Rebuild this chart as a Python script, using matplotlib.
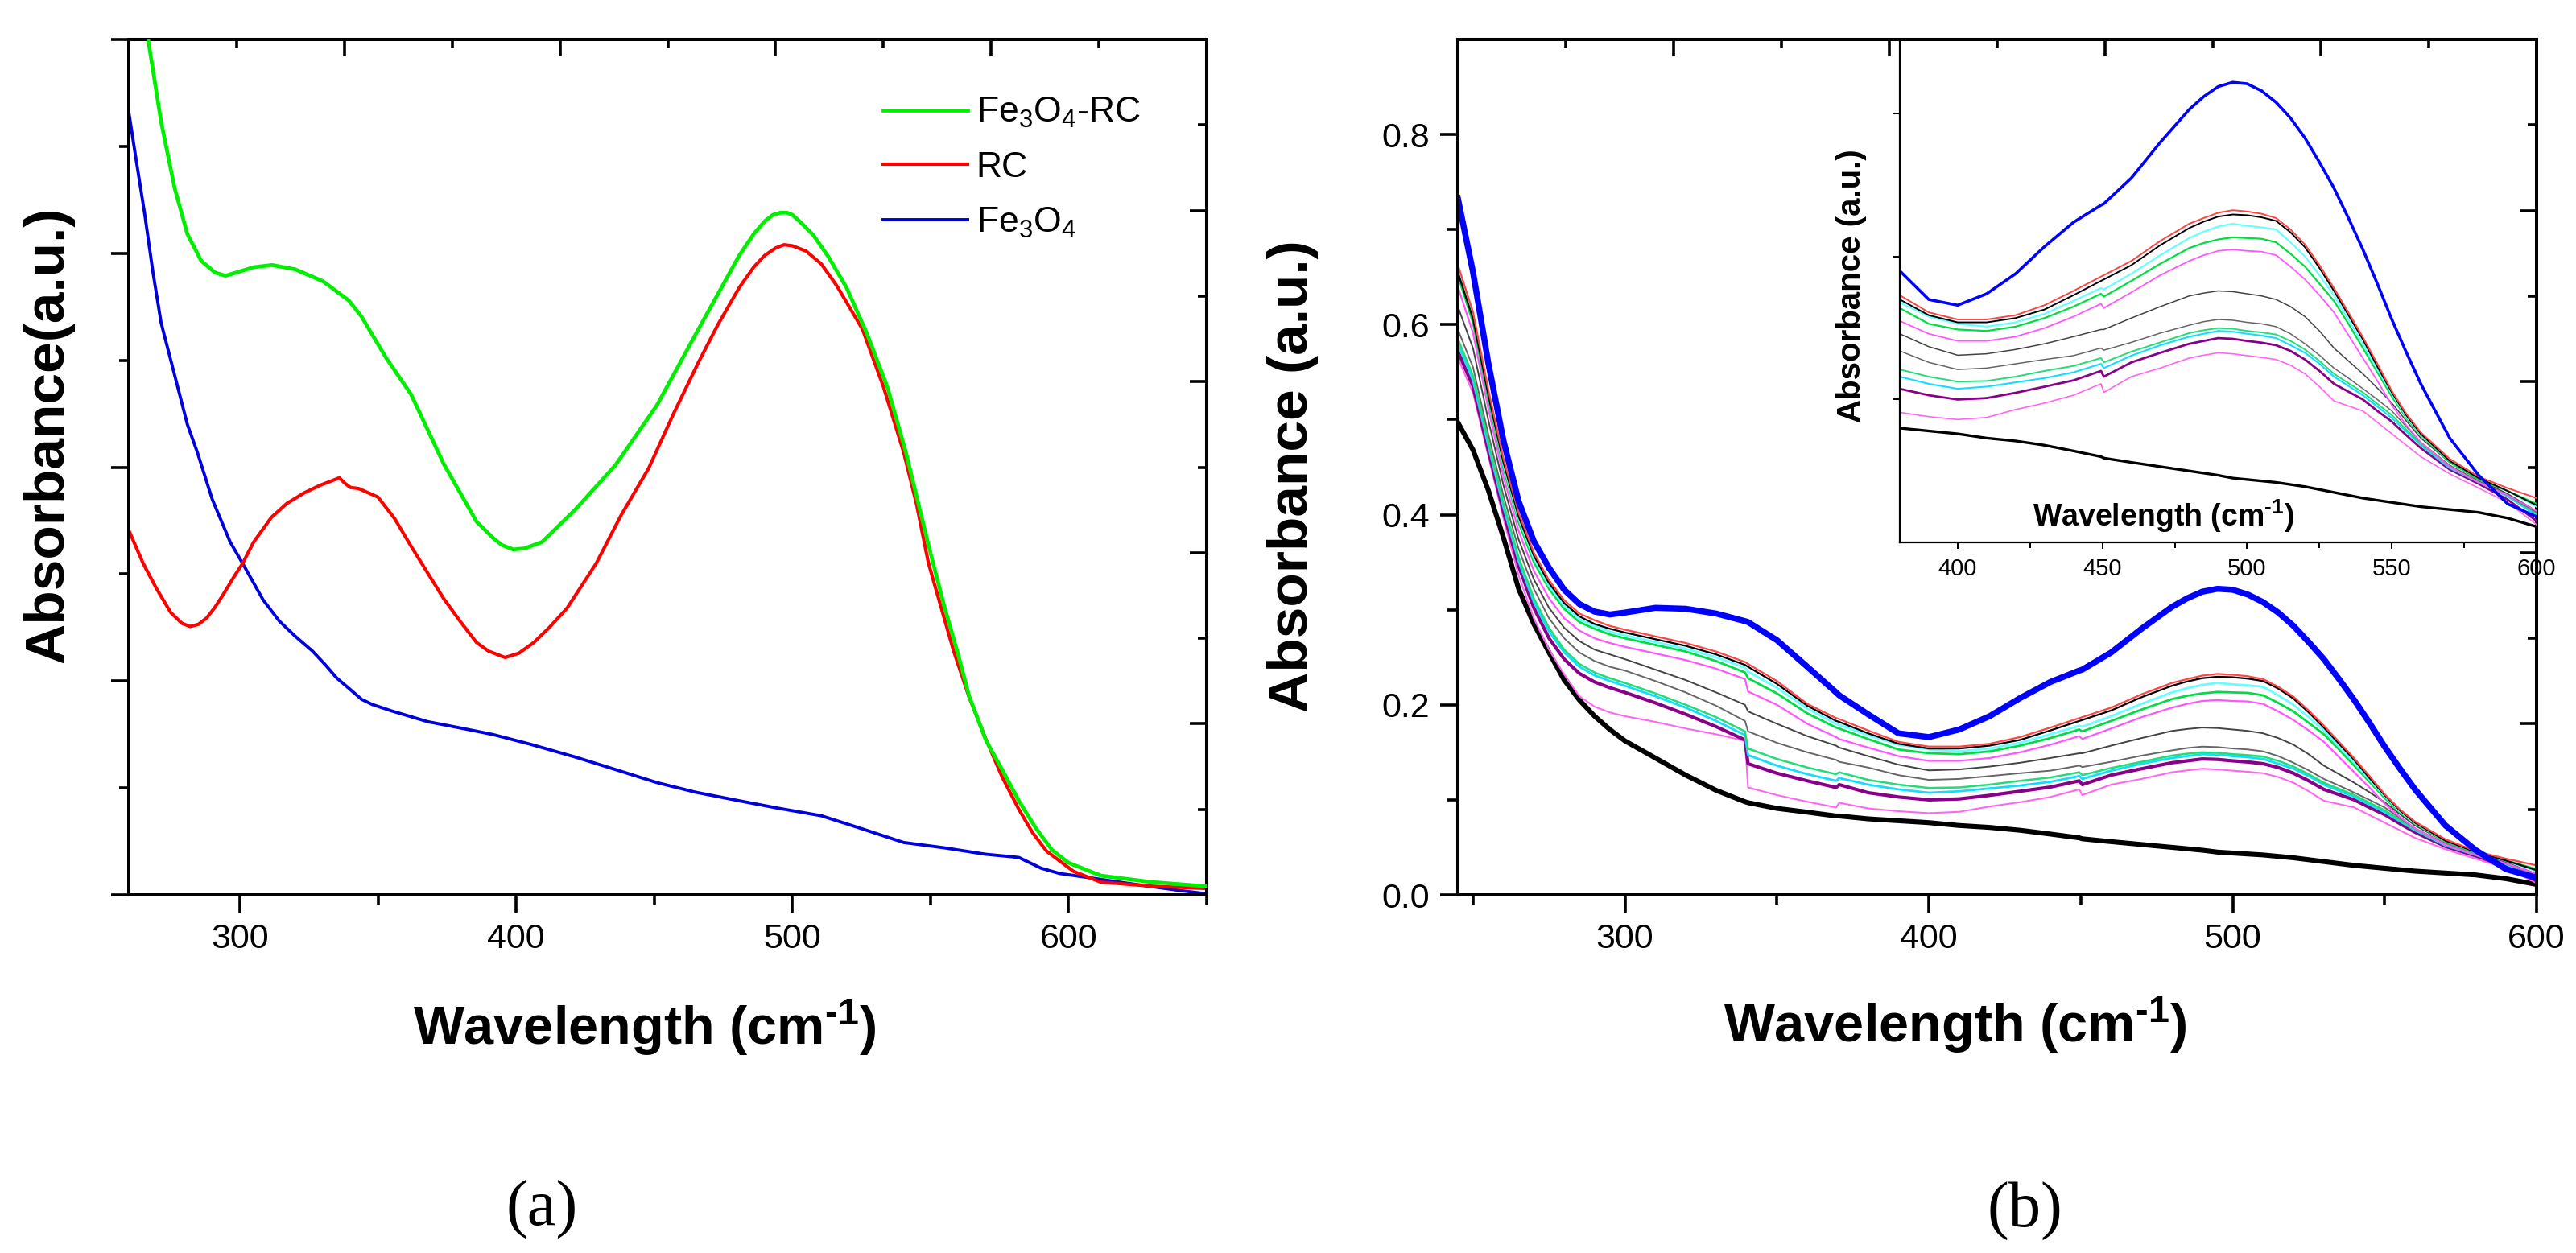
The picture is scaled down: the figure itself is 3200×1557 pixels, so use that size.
import matplotlib
matplotlib.use('Agg')
import matplotlib.pyplot as plt
from matplotlib import font_manager as fm
from matplotlib.ticker import FixedLocator, NullFormatter

# ---------------- data: panel (a) ----------------
wl_a_green = [265, 266.8, 271.5, 276.4, 281, 286, 291, 294.8, 300, 305,
              311.7, 320, 330, 339.4, 344, 353, 362, 373.8, 385.7, 392,
              395, 399, 403, 409.4, 421.3, 436, 451, 466, 480.8, 486,
              490, 493, 495.7, 498, 500, 503, 507.6, 513, 519.6, 527,
              534.4, 541, 546, 550, 555, 560, 564, 570, 576, 582,
              588, 594, 600, 611.7, 630, 650]
abs_a_green = [8.4, 8.0, 7.23, 6.61, 6.18, 5.93, 5.82, 5.79, 5.83, 5.87,
               5.89, 5.85, 5.74, 5.56, 5.41, 5.02, 4.68, 4.03, 3.49, 3.33,
               3.27, 3.23, 3.24, 3.30, 3.60, 4.02, 4.58, 5.29, 5.98, 6.18,
               6.30, 6.36, 6.38, 6.38, 6.36, 6.29, 6.17, 5.97, 5.68, 5.25,
               4.75, 4.15, 3.62, 3.20, 2.70, 2.25, 1.86, 1.45, 1.17, 0.88,
               0.63, 0.42, 0.30, 0.18, 0.12, 0.08]

wl_a_red = [259.8, 265, 269.7, 275, 279, 282, 285, 288, 291, 294,
            298, 301, 305, 311.4, 317, 323.3, 329, 333, 336, 338,
            340, 343, 350, 356, 362, 368, 373.8, 380, 385.7, 390,
            396, 401, 406.4, 412, 418.4, 429, 438, 448, 457, 466,
            473, 480.8, 486, 490, 494, 497, 500, 505, 510.5, 516,
            525.4, 533, 540.3, 545, 549.3, 558.4, 564, 570, 576, 582,
            587, 592, 601.8, 611.6, 631, 650]
abs_a_red = [3.41, 3.10, 2.87, 2.64, 2.54, 2.51, 2.53, 2.59, 2.69, 2.81,
             2.98, 3.10, 3.30, 3.53, 3.66, 3.76, 3.83, 3.87, 3.90, 3.85,
             3.81, 3.80, 3.72, 3.52, 3.26, 3.01, 2.77, 2.55, 2.36, 2.28,
             2.22, 2.26, 2.36, 2.50, 2.68, 3.10, 3.55, 3.99, 4.50, 4.98,
             5.33, 5.68, 5.87, 5.98, 6.05, 6.08, 6.07, 6.02, 5.90, 5.70,
             5.29, 4.75, 4.14, 3.65, 3.10, 2.28, 1.85, 1.46, 1.10, 0.80,
             0.58, 0.41, 0.22, 0.12, 0.08, 0.06]

wl_a_blue = [259.8, 262.3, 265.6, 268.5, 271.5, 275, 278, 281, 284.6, 290,
             296.5, 301, 308.4, 314.3, 320, 326.3, 331, 335, 340, 344,
             348, 355, 368, 380, 391.6, 405, 421.3, 435, 451, 465,
             480.8, 495, 510.5, 525, 540.3, 555, 570, 578, 582, 586,
             590, 596.8, 605, 621, 640.5, 650]
abs_a_blue = [7.32, 6.90, 6.36, 5.83, 5.35, 5.00, 4.70, 4.40, 4.14, 3.70,
              3.30, 3.10, 2.76, 2.56, 2.42, 2.28, 2.15, 2.03, 1.92, 1.83,
              1.78, 1.72, 1.62, 1.56, 1.50, 1.41, 1.29, 1.18, 1.05, 0.96,
              0.88, 0.81, 0.74, 0.62, 0.49, 0.44, 0.38, 0.36, 0.35, 0.30,
              0.25, 0.20, 0.17, 0.11, 0.04, 0.01]

labels_a = ['Fe$_3$O$_4$-RC', 'RC', 'Fe$_3$O$_4$']
xticks_a = [300, 400, 500, 600]

# ---------------- data: panel (b) ----------------
wl_b = [245, 250, 255, 260, 265, 270, 275, 280, 285, 290, 295, 300,
        310, 320, 330, 339.5, 340.5, 350, 360, 369.5, 370.5, 380, 390, 400,
        410, 420, 430, 440, 449.5, 450.5, 460, 470,
        480, 485, 490, 495, 500, 505, 510, 515, 520, 525, 530, 535, 540, 545, 550, 555,
        560, 570, 580, 590, 600]

b_blue = [0.733, 0.655, 0.560, 0.478, 0.414, 0.372, 0.344, 0.321, 0.306, 0.298, 0.295, 0.297,
          0.302, 0.301, 0.296, 0.288, 0.287, 0.268, 0.240, 0.213, 0.210, 0.190, 0.170, 0.166,
          0.174, 0.188, 0.207, 0.224, 0.236, 0.237, 0.255, 0.280,
          0.303, 0.312, 0.319, 0.322, 0.321, 0.316, 0.308, 0.297, 0.283, 0.266, 0.248, 0.227,
          0.205, 0.181, 0.156, 0.133, 0.111, 0.073, 0.047, 0.027, 0.018]
b_red = [0.663, 0.613, 0.532, 0.459, 0.402, 0.360, 0.331, 0.310, 0.296, 0.289, 0.283, 0.279,
         0.272, 0.265, 0.256, 0.245, 0.243, 0.225, 0.201, 0.186, 0.185, 0.173, 0.161, 0.156,
         0.156, 0.159, 0.166, 0.176, 0.186, 0.187, 0.197, 0.211,
         0.223, 0.227, 0.2307, 0.2325, 0.2316, 0.230, 0.227, 0.219, 0.2085, 0.194, 0.178, 0.161,
         0.1436, 0.125, 0.106, 0.090, 0.077, 0.0585, 0.046, 0.038, 0.031]
b_black = [0.655, 0.606, 0.526, 0.455, 0.398, 0.357, 0.328, 0.307, 0.293, 0.285, 0.280, 0.276,
           0.269, 0.262, 0.253, 0.242, 0.240, 0.222, 0.199, 0.183, 0.182, 0.170, 0.159, 0.154,
           0.154, 0.157, 0.163, 0.173, 0.183, 0.184, 0.194, 0.208,
           0.220, 0.2245, 0.228, 0.2295, 0.229, 0.2275, 0.225, 0.217, 0.2065, 0.192, 0.176, 0.159,
           0.142, 0.123, 0.105, 0.089, 0.076, 0.057, 0.045, 0.036, 0.026]
b_cyan = [0.659, 0.608, 0.527, 0.453, 0.396, 0.354, 0.325, 0.304, 0.290, 0.283, 0.277, 0.273,
          0.266, 0.259, 0.250, 0.239, 0.235, 0.218, 0.196, 0.180, 0.179, 0.168, 0.158, 0.153,
          0.151, 0.154, 0.160, 0.169, 0.178, 0.177, 0.188, 0.201,
          0.213, 0.2175, 0.221, 0.223, 0.2215, 0.2205, 0.219, 0.210, 0.200, 0.187, 0.173, 0.156,
          0.139, 0.121, 0.104, 0.088, 0.0755, 0.057, 0.045, 0.036, 0.025]
b_green = [0.652, 0.602, 0.522, 0.449, 0.392, 0.350, 0.322, 0.301, 0.287, 0.280, 0.274, 0.270,
           0.263, 0.256, 0.246, 0.234, 0.228, 0.212, 0.191, 0.176, 0.175, 0.164, 0.153, 0.149,
           0.148, 0.151, 0.157, 0.165, 0.174, 0.172, 0.183, 0.195,
           0.206, 0.2095, 0.212, 0.2135, 0.213, 0.2125, 0.210, 0.202, 0.193, 0.181, 0.169, 0.153,
           0.136, 0.119, 0.102, 0.087, 0.075, 0.056, 0.044, 0.036, 0.027]
b_pink = [0.640, 0.591, 0.512, 0.440, 0.383, 0.341, 0.312, 0.291, 0.278, 0.270, 0.265, 0.261,
          0.254, 0.247, 0.238, 0.227, 0.214, 0.200, 0.180, 0.166, 0.164, 0.155, 0.146, 0.141,
          0.141, 0.144, 0.150, 0.158, 0.167, 0.164, 0.175, 0.187,
          0.197, 0.201, 0.204, 0.205, 0.204, 0.2035, 0.201, 0.193, 0.184, 0.173, 0.161, 0.145,
          0.129, 0.113, 0.096, 0.082, 0.070, 0.053, 0.042, 0.033, 0.022]
b_gray1 = [0.619, 0.575, 0.500, 0.431, 0.374, 0.332, 0.302, 0.281, 0.267, 0.258, 0.253, 0.248,
           0.237, 0.226, 0.213, 0.200, 0.193, 0.180, 0.167, 0.157, 0.155, 0.146, 0.137, 0.131,
           0.132, 0.135, 0.139, 0.144, 0.149, 0.149, 0.157, 0.165,
           0.1725, 0.1745, 0.176, 0.1755, 0.174, 0.1725, 0.170, 0.165, 0.158, 0.148, 0.136, 0.127,
           0.118, 0.108, 0.0975, 0.085, 0.073, 0.056, 0.044, 0.034, 0.022]
b_gray2 = [0.595, 0.555, 0.485, 0.420, 0.364, 0.322, 0.291, 0.270, 0.255, 0.246, 0.240, 0.236,
           0.225, 0.213, 0.199, 0.183, 0.172, 0.160, 0.150, 0.142, 0.140, 0.134, 0.126, 0.121,
           0.122, 0.125, 0.128, 0.1307, 0.136, 0.1345, 0.140, 0.1465,
           0.152, 0.1545, 0.156, 0.1555, 0.154, 0.153, 0.151, 0.146, 0.139, 0.131, 0.122, 0.115,
           0.1076, 0.100, 0.092, 0.081, 0.070, 0.054, 0.043, 0.033, 0.021]
b_green2 = [0.585, 0.546, 0.477, 0.412, 0.355, 0.312, 0.281, 0.258, 0.243, 0.234, 0.228, 0.223,
            0.212, 0.200, 0.187, 0.172, 0.154, 0.143, 0.134, 0.127, 0.129, 0.121, 0.116, 0.1125,
            0.113, 0.116, 0.120, 0.1235, 0.129, 0.126, 0.1335, 0.140,
            0.1465, 0.1485, 0.150, 0.1495, 0.148, 0.147, 0.1455, 0.141, 0.135, 0.127, 0.118, 0.1115,
            0.105, 0.097, 0.089, 0.079, 0.069, 0.053, 0.042, 0.033, 0.020]
b_cyan2 = [0.580, 0.541, 0.473, 0.408, 0.351, 0.308, 0.277, 0.255, 0.240, 0.231, 0.225, 0.220,
           0.209, 0.197, 0.183, 0.168, 0.147, 0.136, 0.127, 0.120, 0.123, 0.116, 0.111, 0.1075,
           0.109, 0.112, 0.115, 0.119, 0.125, 0.122, 0.1307, 0.138,
           0.144, 0.146, 0.148, 0.1475, 0.146, 0.1448, 0.143, 0.138, 0.1327, 0.125, 0.116, 0.1095,
           0.103, 0.095, 0.087, 0.0775, 0.068, 0.052, 0.042, 0.032, 0.019]
b_purple = [0.572, 0.535, 0.468, 0.403, 0.346, 0.302, 0.270, 0.248, 0.233, 0.224, 0.218, 0.213,
            0.202, 0.190, 0.177, 0.163, 0.138, 0.128, 0.120, 0.113, 0.116, 0.1075, 0.103, 0.100,
            0.101, 0.1047, 0.109, 0.1134, 0.120, 0.116, 0.126, 0.1327,
            0.139, 0.141, 0.143, 0.1425, 0.141, 0.1398, 0.138, 0.134, 0.128, 0.120, 0.111, 0.1055,
            0.100, 0.092, 0.0845, 0.075, 0.066, 0.051, 0.041, 0.030, 0.015]
b_pink2 = [0.565, 0.528, 0.462, 0.396, 0.336, 0.291, 0.258, 0.232, 0.209, 0.198, 0.192, 0.188,
           0.182, 0.175, 0.169, 0.162, 0.113, 0.105, 0.098, 0.092, 0.097, 0.091, 0.088, 0.086,
           0.0874, 0.093, 0.0975, 0.103, 0.111, 0.105, 0.116, 0.122,
           0.129, 0.131, 0.1327, 0.132, 0.1307, 0.1295, 0.128, 0.124, 0.118, 0.109, 0.099, 0.0955,
           0.092, 0.084, 0.076, 0.068, 0.060, 0.048, 0.038, 0.028, 0.0125]
b_blackT = [0.497, 0.468, 0.426, 0.376, 0.322, 0.285, 0.255, 0.226, 0.205, 0.188, 0.174, 0.162,
            0.144, 0.126, 0.110, 0.098, 0.097, 0.091, 0.087, 0.083, 0.083, 0.080, 0.078, 0.076,
            0.073, 0.071, 0.068, 0.064, 0.060, 0.059, 0.056, 0.053,
            0.050, 0.0485, 0.047, 0.045, 0.044, 0.043, 0.042, 0.0405, 0.039, 0.037, 0.035, 0.033,
            0.031, 0.0295, 0.028, 0.0265, 0.025, 0.023, 0.021, 0.017, 0.011]

xticks_b = [300, 400, 500, 600]
yticks_b = [0.0, 0.2, 0.4, 0.6, 0.8]
xticks_inset = [400, 450, 500, 550, 600]

# (series, colour, main lw, inset lw) drawing order: bottom to top
series_b = [
    (b_blackT, '#000000', 4.4, 2.4),
    (b_pink2, '#ff66f0', 1.5, 1.2),
    (b_purple, '#880088', 3.0, 2.0),
    (b_cyan2, '#11ddff', 2.0, 1.5),
    (b_green2, '#22dd77', 1.8, 1.4),
    (b_gray2, '#666666', 1.4, 1.1),
    (b_gray1, '#444444', 1.4, 1.1),
    (b_pink, '#ff55ff', 1.6, 1.3),
    (b_green, '#00dd44', 2.0, 1.6),
    (b_cyan, '#66ffff', 2.0, 1.6),
    (b_black, '#000000', 1.6, 1.4),
    (b_red, '#ff4444', 1.6, 1.4),
    (b_blue, '#0000ff', 5.4, 2.6),
]

# ---------------- fonts ----------------
names = {f.name for f in fm.fontManager.ttflist}
SANS = 'Liberation Sans' if 'Liberation Sans' in names else 'DejaVu Sans'
SERIF = 'Liberation Serif' if 'Liberation Serif' in names else 'DejaVu Serif'

plt.rcParams['font.family'] = [SANS, 'DejaVu Sans']
plt.rcParams['mathtext.fontset'] = 'custom'
plt.rcParams['mathtext.rm'] = SANS
plt.rcParams['mathtext.default'] = 'regular'

W, H = 3200, 1557
fig = plt.figure(figsize=(W / 100, H / 100), dpi=100)

XLABEL = 'Wavelength (cm$^{\u2010 1}$)'.replace('\u2010 ', '\u2010')


def rect(l, t, r, b):
    return [l / W, 1 - b / H, (r - l) / W, (b - t) / H]


def add_frame_ticks(ax):
    """Origin-style top/right ticks: 10 equal intervals, inward, no labels."""
    tx = ax.twiny()
    tx.set_xlim(0, 10)
    tx.xaxis.set_major_locator(FixedLocator([0, 2, 4, 6, 8, 10]))
    tx.xaxis.set_minor_locator(FixedLocator([1, 3, 5, 7, 9]))
    tx.tick_params(axis='x', which='both', direction='in', top=True, bottom=False,
                   labeltop=False, labelbottom=False, width=2.6)
    tx.tick_params(axis='x', which='major', length=15)
    tx.tick_params(axis='x', which='minor', length=8)
    for s in tx.spines.values():
        s.set_visible(False)
    ty = ax.twinx()
    ty.set_ylim(0, 10)
    ty.yaxis.set_major_locator(FixedLocator([0, 2, 4, 6, 8, 10]))
    ty.yaxis.set_minor_locator(FixedLocator([1, 3, 5, 7, 9]))
    ty.tick_params(axis='y', which='both', direction='in', right=True, left=False,
                   labelright=False, labelleft=False, width=2.6)
    ty.tick_params(axis='y', which='major', length=15)
    ty.tick_params(axis='y', which='minor', length=8)
    for s in ty.spines.values():
        s.set_visible(False)


def style_main(ax):
    for s in ax.spines.values():
        s.set_linewidth(2.9)
    ax.tick_params(which='both', direction='out', width=2.6, top=False, right=False)
    ax.tick_params(which='major', length=16, pad=9, labelsize=31)
    ax.tick_params(which='minor', length=8.5)


# ---------------- panel (a) ----------------
axA = fig.add_axes(rect(160, 49, 1499, 1112))
lg, = axA.plot(wl_a_green, abs_a_green, color='#00ee00', lw=3.4, zorder=3)
lr, = axA.plot(wl_a_red, abs_a_red, color='#ff0000', lw=3.0, zorder=2)
lb, = axA.plot(wl_a_blue, abs_a_blue, color='#0000dd', lw=2.8, zorder=1)
axA.set_xlim(259.8, 650)
axA.set_ylim(0, 8)
axA.xaxis.set_major_locator(FixedLocator(xticks_a))
axA.xaxis.set_minor_locator(FixedLocator([350, 450, 550, 650]))
axA.yaxis.set_major_locator(FixedLocator([0, 2, 4, 6, 8]))
axA.yaxis.set_minor_locator(FixedLocator([1, 3, 5, 7]))
axA.yaxis.set_major_formatter(NullFormatter())
style_main(axA)
leg = axA.legend([lg, lr, lb], labels_a, loc='upper left', bbox_to_anchor=(0.7, 0.934),
                 frameon=False, fontsize=32, handlelength=2.35, handletextpad=0.25,
                 labelspacing=0.6, borderpad=0, borderaxespad=0)
add_frame_ticks(axA)

# ---------------- panel (b) ----------------
axB = fig.add_axes(rect(1811, 49, 3151, 1112))
for vals, col, lw, _ in series_b:
    axB.plot(wl_b, vals, color=col, lw=lw, solid_joinstyle='round')
axB.set_xlim(245, 600)
axB.set_ylim(0, 0.9)
axB.xaxis.set_major_locator(FixedLocator(xticks_b))
axB.xaxis.set_minor_locator(FixedLocator([250, 350, 450, 550]))
axB.yaxis.set_major_locator(FixedLocator(yticks_b))
axB.yaxis.set_minor_locator(FixedLocator([0.1, 0.3, 0.5, 0.7]))
axB.set_yticklabels(['%.1f' % v for v in yticks_b])
style_main(axB)
axB.tick_params(axis='y', which='minor', length=10)
add_frame_ticks(axB)

# ---------------- inset ----------------
axI = fig.add_axes(rect(2360, 49, 3151, 674), facecolor='none')
for vals, col, _, lwi in series_b:
    axI.plot(wl_b, vals, color=col, lw=lwi, solid_joinstyle='round')
axI.set_xlim(380, 600)
axI.set_ylim(0, 0.352)
axI.xaxis.set_major_locator(FixedLocator(xticks_inset))
axI.xaxis.set_minor_locator(FixedLocator([425, 475, 525, 575]))
axI.yaxis.set_major_locator(FixedLocator([0.1, 0.2, 0.3]))
axI.yaxis.set_major_formatter(NullFormatter())
axI.spines['top'].set_visible(False)
axI.spines['right'].set_visible(False)
axI.spines['left'].set_linewidth(1.6)
axI.spines['bottom'].set_linewidth(1.6)
axI.tick_params(which='both', direction='out', width=1.4, top=False, right=False)
axI.tick_params(which='major', length=6, pad=8, labelsize=21)
axI.tick_params(which='minor', length=5)

# ---------------- texts ----------------
def ftext(x, y, s, **kw):
    fig.text(x / W, 1 - y / H, s, **kw)

ftext(60, 540, 'Absorbance(a.u.)', rotation=90, ha='center', va='center',
      fontsize=50, fontweight='bold')
ftext(801, 1298, XLABEL, ha='center', va='baseline', fontsize=48, fontweight='bold')
ftext(1606, 592, 'Absorbance (a.u.)', rotation=90, ha='center', va='center',
      fontsize=50, fontweight='bold')
ftext(2429, 1295, XLABEL, ha='center', va='baseline', fontsize=48, fontweight='bold')
ftext(2300, 355, 'Absorbance (a.u.)', rotation=90, ha='center', va='center',
      fontsize=29, fontweight='bold')
ftext(2687, 654, XLABEL, ha='center', va='baseline', fontsize=27, fontweight='bold')
ftext(673, 1503, '(a)', ha='center', va='center', fontsize=58, family=SERIF)
ftext(2515, 1505, '(b)', ha='center', va='center', fontsize=58, family=SERIF)

fig.savefig('out.png', dpi=100)
